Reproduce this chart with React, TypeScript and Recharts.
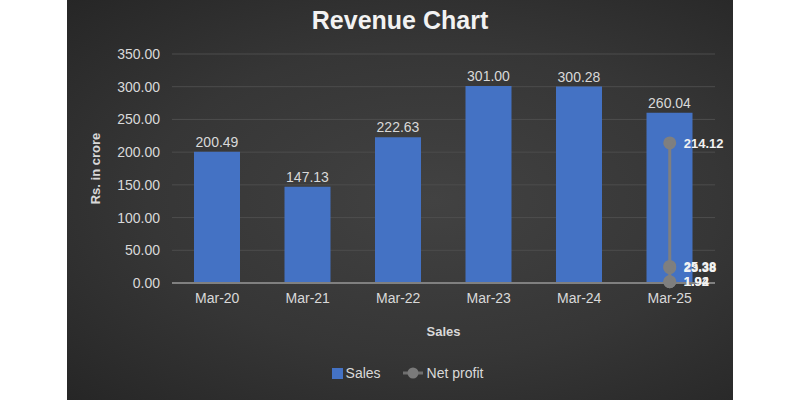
import React from "react";
import {
  ComposedChart,
  Bar,
  Line,
  XAxis,
  YAxis,
  CartesianGrid,
  LabelList,
  Legend,
} from "recharts";

const categories = ["Mar-20", "Mar-21", "Mar-22", "Mar-23", "Mar-24", "Mar-25"];
const salesValues = [200.49, 147.13, 222.63, 301.0, 300.28, 260.04];
const netProfitValues = [214.12, 25.38, 23.38, 1.94, 1.92];
const netProfitPosition = 5.5; // all net profit points sit on the Mar-25 slot
const yTicks = [0, 50, 100, 150, 200, 250, 300, 350];

const salesData = categories.map((c, i) => ({ month: c, sales: salesValues[i] }));
const profitData = netProfitValues.map((v) => ({ x: netProfitPosition, profit: v }));

const FONT = "'Liberation Sans', Arial, sans-serif";
const TEXT = "#d9d9d9";

const LegendContent = () => (
  <div
    style={{
      display: "flex",
      justifyContent: "center",
      alignItems: "center",
      fontFamily: FONT,
      fontSize: 14,
      color: TEXT,
      paddingLeft: 20,
      paddingTop: 9,
    }}
  >
    <span style={{ display: "inline-block", width: 11, height: 11, background: "#4472c4", marginRight: 3 }} />
    <span style={{ marginRight: 22 }}>Sales</span>
    <svg width={20} height={12} style={{ marginRight: 4 }}>
      <line x1={0} y1={6} x2={20} y2={6} stroke="#6f6f6f" strokeWidth={3} />
      <circle cx={10} cy={6} r={5.5} fill="#7a7a7a" />
    </svg>
    <span>Net profit</span>
  </div>
);

export default function App() {
  return (
    <div style={{ position: "absolute", left: 0, top: 0, width: 800, height: 400, background: "#ffffff" }}>
      <div
        style={{
          position: "absolute",
          left: 67,
          top: 0,
          width: 666,
          height: 400,
          background: "radial-gradient(ellipse at 55% 50%, #424242 0%, #363636 55%, #262626 100%)",
        }}
      />
      <div
        style={{
          position: "absolute",
          left: 0,
          top: 6,
          width: 800,
          textAlign: "center",
          fontFamily: FONT,
          fontWeight: 700,
          fontSize: 25,
          color: "#f2f2f2",
        }}
      >
        Revenue Chart
      </div>
      <div style={{ position: "absolute", left: 0, top: 0 }}>
        <ComposedChart
          width={800}
          height={400}
          data={salesData}
          margin={{ top: 54, right: 85, bottom: 14, left: 80 }}
        >
          <CartesianGrid vertical={false} stroke="#4d4d4d" strokeWidth={1} />
          <XAxis
            dataKey="month"
            xAxisId="cat"
            height={73}
            tickLine={false}
            tickSize={0}
            tickMargin={10}
            axisLine={{ stroke: "#808080", strokeWidth: 2 }}
            tick={{ fill: TEXT, fontSize: 14, fontFamily: FONT }}
            label={{
              value: "Sales",
              position: "insideBottom",
              offset: 20,
              fill: TEXT,
              fontSize: 13,
              fontWeight: 700,
              fontFamily: FONT,
            }}
          />
          <XAxis
            dataKey="x"
            xAxisId="np"
            type="number"
            domain={[0, 6]}
            allowDataOverflow
            hide
          />
          <YAxis
            width={92}
            domain={[0, 350]}
            ticks={yTicks}
            interval={0}
            tickLine={false}
            axisLine={false}
            tickSize={0}
            tickMargin={12}
            tickFormatter={(v: number) => v.toFixed(2)}
            tick={{ fill: TEXT, fontSize: 14, fontFamily: FONT }}
            label={{
              value: "Rs. in crore",
              angle: -90,
              position: "insideLeft",
              offset: 15,
              fill: TEXT,
              fontSize: 13,
              fontWeight: 700,
              fontFamily: FONT,
              style: { textAnchor: "middle" },
            }}
          />
          <Bar dataKey="sales" name="Sales" xAxisId="cat" fill="#4472c4" barSize={46} isAnimationActive={false}>
            <LabelList
              dataKey="sales"
              position="top"
              offset={5}
              formatter={(v: number) => Number(v).toFixed(2)}
              fill={TEXT}
              fontSize={14}
              fontFamily={FONT}
            />
          </Bar>
          <Line
            data={profitData}
            dataKey="profit"
            name="Net profit"
            xAxisId="np"
            stroke="#7f7f7f"
            strokeWidth={3}
            dot={{ r: 5, fill: "#7f7f7f", stroke: "#7f7f7f" }}
            isAnimationActive={false}
          >
            <LabelList
              dataKey="profit"
              position="right"
              offset={14}
              formatter={(v: number) => Number(v).toFixed(2)}
              fill="#f2f2f2"
              fontSize={13}
              fontWeight={700}
              fontFamily={FONT}
            />
          </Line>
          <Legend verticalAlign="bottom" height={30} content={LegendContent} />
        </ComposedChart>
      </div>
    </div>
  );
}
